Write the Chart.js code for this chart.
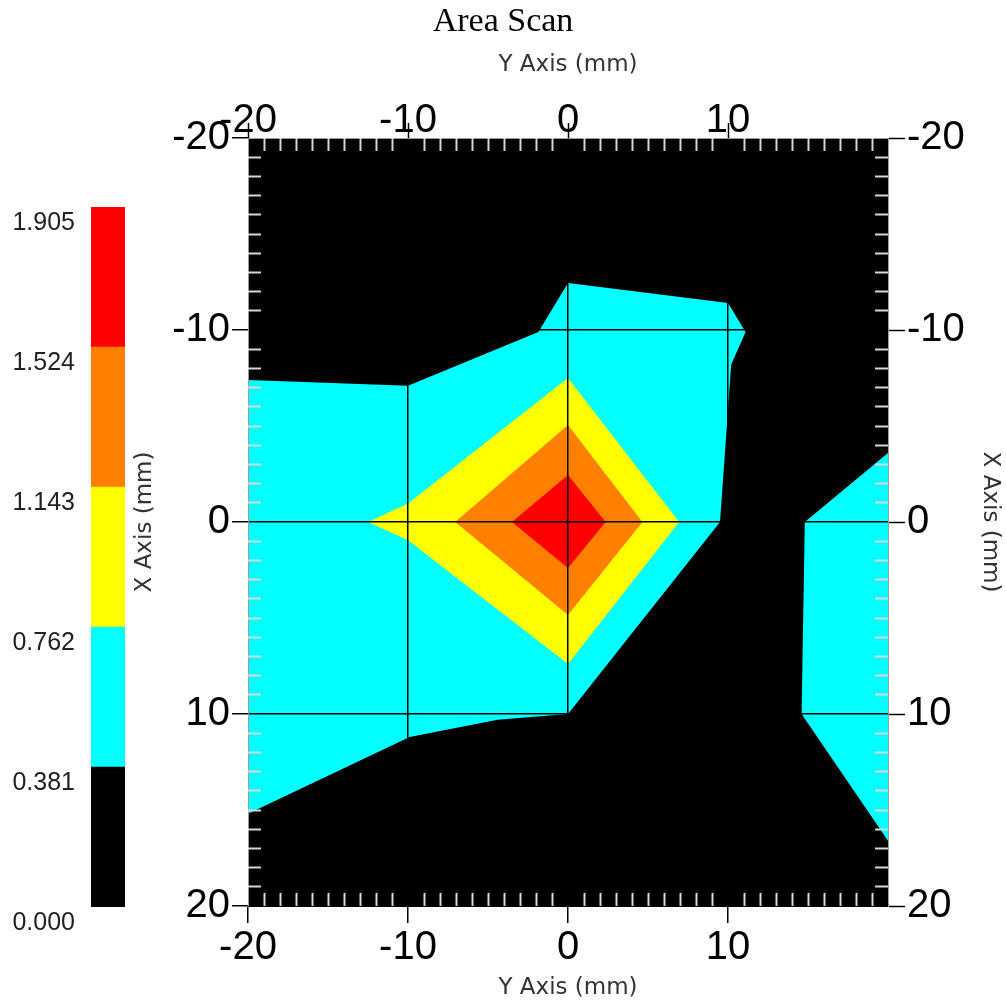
<!DOCTYPE html>
<html>
<head>
<meta charset="utf-8">
<title>Area Scan</title>
<script src="https://cdn.jsdelivr.net/npm/chart.js@4.4.1/dist/chart.umd.min.js"></script>
<style>
  html, body { margin: 0; padding: 0; background: #fff; }
  #wrap { position: relative; width: 1006px; height: 1005px; }
  #scanChart, #legendChart { position: absolute; left: 0; top: 0; }
</style>
</head>
<body>
<div id="wrap">
  <canvas id="scanChart" width="1006" height="1005"></canvas>
  <canvas id="legendChart" width="130" height="1005"></canvas>
</div>
<script>
// contour levels shown on the colour bar, low to high, and the band colours between them
const levels = [0.000, 0.381, 0.762, 1.143, 1.524, 1.905];
const bandColors = ['#000000', '#00ffff', '#ffff00', '#ff8000', '#ff0000'];

// labelled ticks on all four sides (mm)
const majorTicks = [-20, -10, 0, 10, 20];

// band outlines: Y Axis position (horizontal, mm) and X Axis position (vertical, mm)
const cyanWestY = [-20, -10, -1.85, 0, 10.0, 11.1, 10.2, 9.5, 0, -4.4, -9.9, -20];
const cyanWestX = [-7.4, -7.1, -9.9, -12.45, -11.4, -9.9, -8.2, 0, 10, 10.3, 11.2, 15.2];
const cyanEastY = [14.8, 20, 20, 14.6];
const cyanEastX = [0, -3.6, 16.6, 10];
const yellowY = [-12.5, -10, 0, 6.95, 0, -10];
const yellowX = [0, -0.97, -7.5, 0, 7.4, 0.95];
const orangeY = [-7.05, 0, 4.65, 0];
const orangeX = [0, -5.05, 0, 4.85];
const redY = [-3.5, 0, 2.35, 0];
const redX = [0, -2.45, 0, 2.4];

// top-most band first: Chart.js paints dataset 0 last
const regions = [
  { h: redY, v: redX, color: bandColors[4] },
  { h: orangeY, v: orangeX, color: bandColors[3] },
  { h: yellowY, v: yellowX, color: bandColors[2] },
  { h: cyanWestY, v: cyanWestX, color: bandColors[1] },
  { h: cyanEastY, v: cyanEastX, color: bandColors[1] }
];

const tickFont = { family: 'Liberation Sans, Arial, sans-serif', size: 40 };
const titleFont = { family: 'DejaVu Sans, sans-serif', size: 23 };
const clear = 'rgba(0,0,0,0)';
const minorColor = (ctx) => (ctx.tick && ctx.tick.value % 10 === 0) ? clear : '#d8d8d8';
const gridColor = (ctx) => (ctx.tick && Math.abs(ctx.tick.value) === 20) ? clear : '#000';
const hTickColor = (ctx) => (ctx.tick && ctx.tick.value === 20) ? clear : '#000';
const setMajor = (scale) => { scale.ticks = majorTicks.map((v) => ({ value: v })); };
const hideTwenty = (v) => (v === 20 ? '' : v);

const plotBackground = {
  id: 'plotBackground',
  beforeDraw(chart) {
    const { ctx, chartArea: a } = chart;
    ctx.save();
    ctx.fillStyle = bandColors[0];
    ctx.fillRect(a.left, a.top, a.width, a.height);
    ctx.restore();
  }
};

function minorAxis(position, horizontal) {
  return {
    type: 'linear',
    position,
    reverse: !horizontal,
    min: -20,
    max: 20,
    weight: -1,
    ticks: { display: false, stepSize: 1, maxTicksLimit: 41, autoSkip: false },
    grid: { drawOnChartArea: false, drawTicks: true, tickLength: -13, tickColor: minorColor, tickWidth: 2, z: 1 },
    border: { display: false },
    afterFit: (s) => { if (horizontal) s.height = 0; else s.width = 0; }
  };
}

new Chart(document.getElementById('scanChart'), {
  type: 'scatter',
  data: {
    datasets: regions.map((r) => ({
      data: r.h.map((h, i) => ({ x: h, y: r.v[i] })),
      showLine: true,
      fill: 'shape',
      backgroundColor: r.color,
      borderWidth: 0,
      pointRadius: 0,
      xAxisID: 'x',
      yAxisID: 'y'
    }))
  },
  options: {
    responsive: false,
    animation: false,
    events: [],
    layout: { padding: 0 },
    plugins: {
      legend: { display: false },
      tooltip: { enabled: false },
      title: {
        display: true,
        text: 'Area Scan',
        color: '#000',
        font: { family: 'Liberation Serif, Times New Roman, serif', size: 34, weight: 'normal' },
        padding: { top: 2, bottom: 0 }
      }
    },
    scales: {
      x: {
        type: 'linear', position: 'bottom', min: -20, max: 20, weight: 0,
        afterBuildTicks: setMajor,
        ticks: { font: tickFont, color: '#000', padding: 1, autoSkip: false, maxRotation: 0, callback: hideTwenty },
        grid: { z: 1, color: gridColor, lineWidth: 1.5, tickLength: 17, tickColor: hTickColor, tickWidth: 1.5 },
        border: { display: true, color: '#000', width: 1, z: 1 },
        title: { display: true, text: 'Y Axis (mm)', color: '#333', font: titleFont, padding: { top: 0, bottom: 3 } },
        afterFit: (s) => { s.height = 99; }
      },
      x2: {
        type: 'linear', position: 'top', min: -20, max: 20, weight: 0,
        afterBuildTicks: setMajor,
        ticks: { font: tickFont, color: '#000', padding: -22, autoSkip: false, maxRotation: 0, callback: hideTwenty },
        grid: { z: 1, drawOnChartArea: false, tickLength: 15, tickColor: hTickColor, tickWidth: 1.5 },
        border: { display: true, color: '#9a9a9a', width: 1, z: 1 },
        title: { display: true, text: 'Y Axis (mm)', color: '#333', font: titleFont, padding: { top: 8.4, bottom: 0 } },
        afterFit: (s) => { s.height = 95.2; }
      },
      y: {
        type: 'linear', position: 'left', reverse: true, min: -20, max: 20, weight: 0,
        afterBuildTicks: setMajor,
        ticks: { font: tickFont, color: '#000', padding: 2, autoSkip: false },
        grid: { z: 1, color: gridColor, lineWidth: 1.5, tickLength: 16, tickColor: '#000', tickWidth: 1.5 },
        border: { display: true, color: '#9a9a9a', width: 1, z: 1 },
        title: { display: true, text: 'X Axis (mm)', color: '#333', font: titleFont, padding: { top: 131, bottom: 0 } },
        afterFit: (s) => { s.width = 248; }
      },
      y2: {
        type: 'linear', position: 'right', reverse: true, min: -20, max: 20, weight: 0,
        afterBuildTicks: setMajor,
        ticks: { font: tickFont, color: '#000', padding: 2, autoSkip: false },
        grid: { z: 1, drawOnChartArea: false, tickLength: 17, tickColor: '#000', tickWidth: 1.5 },
        border: { display: true, color: '#9a9a9a', width: 1, z: 1 },
        title: { display: true, text: 'X Axis (mm)', color: '#333', font: titleFont, padding: { top: 2, bottom: 0 } },
        afterFit: (s) => { s.width = 118; }
      },
      xMinorBottom: minorAxis('bottom', true),
      xMinorTop: minorAxis('top', true),
      yMinorLeft: minorAxis('left', false),
      yMinorRight: minorAxis('right', false)
    }
  },
  plugins: [plotBackground]
});

// colour bar on the left
new Chart(document.getElementById('legendChart'), {
  type: 'bar',
  data: {
    labels: ['level'],
    datasets: bandColors.map((c, i) => ({
      data: [[levels[i], levels[i + 1]]],
      backgroundColor: c,
      borderWidth: 0,
      barPercentage: 1,
      categoryPercentage: 1,
      grouped: false
    }))
  },
  options: {
    responsive: false,
    animation: false,
    events: [],
    layout: { padding: { top: 207, bottom: 98, left: 0, right: 5 } },
    plugins: { legend: { display: false }, tooltip: { enabled: false } },
    scales: {
      x: { display: false },
      y: {
        min: 0,
        max: 1.905,
        afterBuildTicks: (s) => { s.ticks = levels.map((v) => ({ value: v })); },
        afterFit: (s) => { s.width = 91; },
        grid: { display: false },
        border: { display: false },
        ticks: {
          padding: 8,
          labelOffset: 16,
          color: '#222',
          font: { family: 'Liberation Sans, Arial, sans-serif', size: 25 },
          callback: (v) => Number(v).toFixed(3)
        }
      }
    }
  }
});
</script>
</body>
</html>
